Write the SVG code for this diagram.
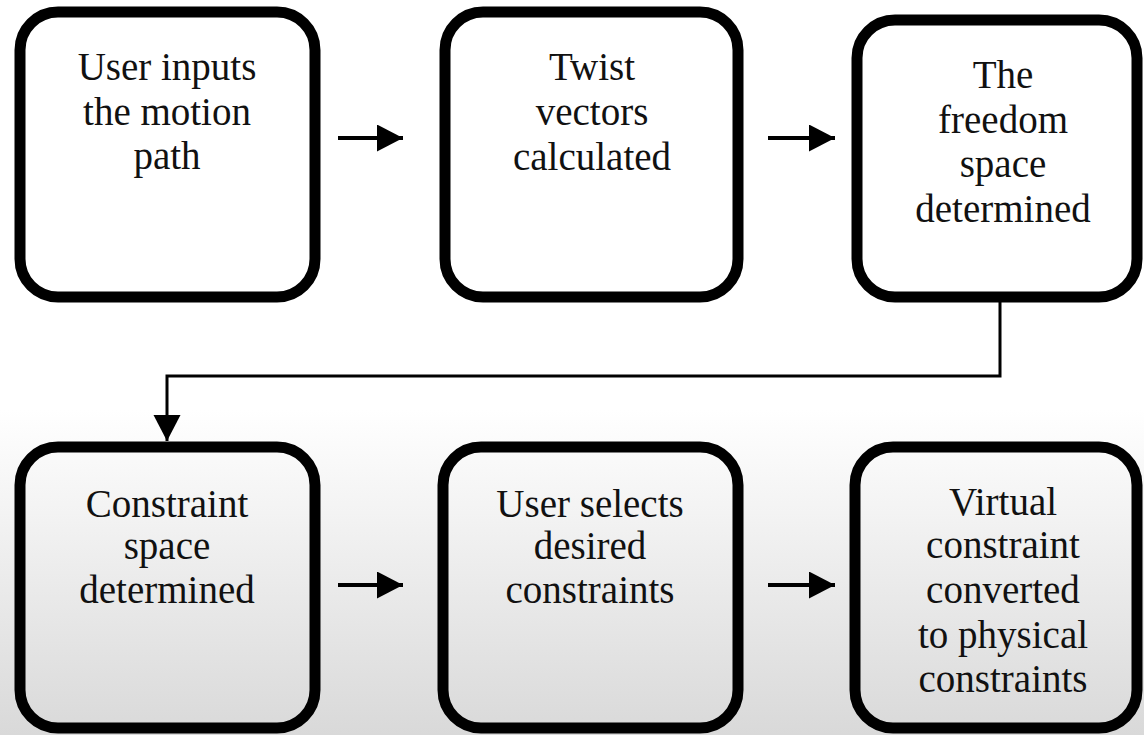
<svg xmlns="http://www.w3.org/2000/svg" width="1144" height="735" viewBox="0 0 1144 735">
  <defs>
    <linearGradient id="bg" x1="0" y1="0" x2="0" y2="1">
      <stop offset="0" stop-color="#ffffff"/>
      <stop offset="1" stop-color="#d9d9d9"/>
    </linearGradient>
    <marker id="ah" markerUnits="userSpaceOnUse" markerWidth="28" markerHeight="28" refX="26" refY="13.5" orient="auto" viewBox="0 0 28 28">
      <polygon points="0,0 26,13.5 0,27" fill="#000"/>
    </marker>
    <style>
      .box { fill: none; stroke: #000; stroke-width: 11; }
      .lbl { font-family: "Liberation Serif", "Times New Roman", Tinos, "Noto Serif", "DejaVu Serif", "Nimbus Roman", "Nimbus Roman No9 L", FreeSerif, Times, serif; font-size: 39px; fill: #111; text-anchor: middle; }
      .arr { stroke: #000; stroke-width: 4; fill: none; }
      .conn { stroke: #000; stroke-width: 3; fill: none; }
    </style>
  </defs>
  <rect x="0" y="0" width="1144" height="735" fill="#fff"/>
  <rect x="0" y="410" width="1144" height="325" fill="url(#bg)"/>

  <g id="connectors">
    <line class="arr" x1="338" y1="138" x2="403" y2="138" marker-end="url(#ah)"/>
    <line class="arr" x1="768" y1="138" x2="835" y2="138" marker-end="url(#ah)"/>
    <polyline class="conn" points="1000,300 1000,376 167,376 167,441" marker-end="url(#ah)"/>
    <line class="arr" x1="338" y1="585" x2="403" y2="585" marker-end="url(#ah)"/>
    <line class="arr" x1="768" y1="585" x2="835" y2="585" marker-end="url(#ah)"/>
  </g>

  <g id="n1">
    <rect class="box" x="20" y="12" width="295" height="285" rx="38"/>
    <text class="lbl" x="167" y="80">User inputs</text>
    <text class="lbl" x="167" y="125">the motion</text>
    <text class="lbl" x="167" y="169">path</text>
  </g>
  <g id="n2">
    <rect class="box" x="445" y="12" width="293" height="285" rx="38"/>
    <text class="lbl" x="592" y="80">Twist</text>
    <text class="lbl" x="592" y="125">vectors</text>
    <text class="lbl" x="592" y="170">calculated</text>
  </g>
  <g id="n3">
    <rect class="box" x="857" y="20" width="280" height="277" rx="38"/>
    <text class="lbl" x="1003" y="88">The</text>
    <text class="lbl" x="1003" y="133">freedom</text>
    <text class="lbl" x="1003" y="177">space</text>
    <text class="lbl" x="1003" y="222">determined</text>
  </g>
  <g id="n4">
    <rect class="box" x="20" y="447" width="295" height="281" rx="38"/>
    <text class="lbl" x="167" y="517">Constraint</text>
    <text class="lbl" x="167" y="559">space</text>
    <text class="lbl" x="167" y="603">determined</text>
  </g>
  <g id="n5">
    <rect class="box" x="443" y="447" width="295" height="281" rx="38"/>
    <text class="lbl" x="590" y="517">User selects</text>
    <text class="lbl" x="590" y="559">desired</text>
    <text class="lbl" x="590" y="603">constraints</text>
  </g>
  <g id="n6">
    <rect class="box" x="855" y="447" width="282" height="281" rx="38"/>
    <text class="lbl" x="1003" y="515">Virtual</text>
    <text class="lbl" x="1003" y="558">constraint</text>
    <text class="lbl" x="1003" y="603">converted</text>
    <text class="lbl" x="1003" y="648">to physical</text>
    <text class="lbl" x="1003" y="692">constraints</text>
  </g>
</svg>
